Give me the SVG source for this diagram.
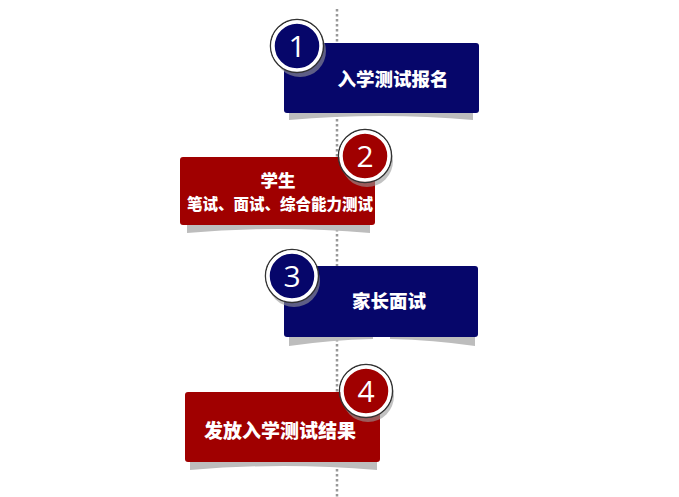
<svg xmlns="http://www.w3.org/2000/svg" width="679" height="497" viewBox="0 0 679 497">
<style>
.navy{fill:#06066a}
.red{fill:#a00000}
.shadow{fill:#bdbdbd}
.cshadow{fill:#9a9a9a;opacity:0.6}
.ring{stroke:#ffffff;stroke-width:3.5}
.outline{fill:none;stroke:#333333;stroke-width:1.5}
.num{font-family:"Open Sans","Noto Sans",sans-serif;font-size:30px;fill:#ffffff;text-anchor:middle}
.lbl{font-family:"Noto Sans CJK SC","Noto Sans",sans-serif;font-weight:900;fill:#ffffff;text-anchor:middle}
</style>
<rect width="679" height="497" fill="#ffffff"/>
<g id="connectors">
<line x1="337" y1="9" x2="337" y2="497" stroke="#999999" stroke-width="2.5" stroke-dasharray="2.5 2.5"/>
</g>
<g id="node1">
<path class="shadow" d="M289,112 L473,112 L473,120 Q381,112 289,120 Z"/>
<rect class="navy" x="284" y="43" width="195" height="70" rx="3"/>
<circle class="cshadow" cx="300" cy="51" r="26"/>
<circle class="outline" cx="297" cy="46" r="26.5"/>
<circle class="navy ring" cx="297" cy="46" r="24"/>
<text class="num" x="297" y="57">1</text>
<text class="lbl" x="393" y="86" font-size="18.5">入学测试报名</text>
</g>
<g id="node2">
<path class="shadow" d="M187,224 L370,224 L370,233 Q278,225 187,233 Z"/>
<rect class="red" x="180" y="157" width="195" height="68" rx="3"/>
<circle class="cshadow" cx="367" cy="161" r="26"/>
<circle class="outline" cx="365" cy="156" r="26.5"/>
<circle class="red ring" cx="365" cy="156" r="24"/>
<text class="num" x="365" y="167">2</text>
<text class="lbl" x="278" y="187" font-size="17.5">学生</text>
<text class="lbl" x="280" y="210" font-size="15.5">笔试、面试、综合能力测试</text>
</g>
<g id="node3">
<path class="shadow" d="M289,336 L373,336 L373,339 Q330,340 289,346 Z"/>
<path class="shadow" d="M390,336 L475,336 L475,346 Q434,340 390,339 Z"/>
<rect class="navy" x="284" y="266" width="194" height="71" rx="3"/>
<circle class="cshadow" cx="294" cy="281" r="26"/>
<circle class="outline" cx="292" cy="276" r="26.5"/>
<circle class="navy ring" cx="292" cy="276" r="24"/>
<text class="num" x="292" y="287">3</text>
<text class="lbl" x="389" y="308" font-size="18.5">家长面试</text>
</g>
<g id="node4">
<path class="shadow" d="M190,461 L377,461 L377,470 Q283,462 190,470 Z"/>
<rect class="red" x="185" y="392" width="195" height="70" rx="3"/>
<circle class="cshadow" cx="368" cy="396" r="26"/>
<circle class="outline" cx="366" cy="391" r="26.5"/>
<circle class="red ring" cx="366" cy="391" r="24"/>
<text class="num" x="366" y="402">4</text>
<text class="lbl" x="280" y="438" font-size="19">发放入学测试结果</text>
</g>
</svg>
